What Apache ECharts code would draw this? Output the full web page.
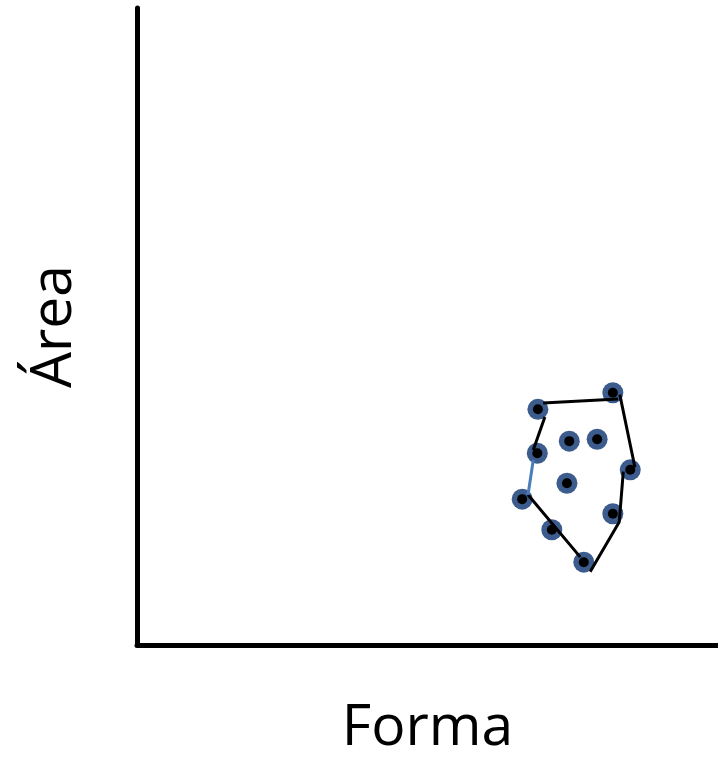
<!DOCTYPE html>
<html>
<head>
<meta charset="utf-8">
<script src="https://cdn.jsdelivr.net/npm/echarts@6/dist/echarts.min.js"></script>
<style>
html,body{margin:0;padding:0;background:#fff;}
#chart{width:718px;height:760px;}
</style>
</head>
<body>
<div id="chart"></div>
<script>
// Points (Forma, Área)
var pointsX = [81.9, 69.0, 74.4, 79.2, 68.9, 84.9, 74.0, 66.3, 81.9, 71.4, 76.9];
var pointsY = [39.6, 37.0, 32.0, 32.3, 30.1, 27.5, 25.4, 22.9, 20.6, 18.1, 13.0];
// Hull outline segments (black), null separates segments
var hullX = [69.9, 82.8, null, 83.1, 85.7, null, 83.7, 83.0, 78.0, null, 76.3, 67.3, null, 68.2, 70.2];
var hullY = [38.0, 38.6, null, 39.3, 27.9, null, 27.2, 19.3, 11.5, null, 13.8, 23.6, null, 30.6, 35.8];
// Hull edge drawn in blue
var edgeX = [67.3, 68.2];
var edgeY = [23.6, 29.0];
var xName = 'Forma';
var yName = 'Área';

function pairs(xs, ys) {
  return xs.map(function (x, i) { return x === null ? '-' : [x, ys[i]]; });
}

var chart = echarts.init(document.getElementById('chart'));
chart.setOption({
  animation: false,
  backgroundColor: '#ffffff',
  grid: { left: 137, right: 0, top: 8, bottom: 115, containLabel: false, outerBoundsMode: 'none' },
  xAxis: {
    type: 'value', min: 0, max: 100,
    name: xName, nameLocation: 'middle', nameGap: 55,
    nameTextStyle: { fontFamily: 'Open Sans', fontSize: 57, color: '#000' },
    axisLine: { show: true, onZero: false, lineStyle: { color: '#000', width: 5 } },
    axisTick: { show: false }, axisLabel: { show: false }, splitLine: { show: false }
  },
  yAxis: {
    type: 'value', min: 0, max: 100,
    name: yName, nameLocation: 'middle', nameGap: 54, nameRotate: 90,
    nameTextStyle: { fontFamily: 'Open Sans', fontSize: 57, color: '#000' },
    axisLine: { show: true, onZero: false, lineStyle: { color: '#000', width: 5 } },
    axisTick: { show: false }, axisLabel: { show: false }, splitLine: { show: false }
  },
  series: [
    {
      type: 'scatter', z: 2,
      symbol: 'circle', symbolSize: 21,
      itemStyle: { color: '#3B5C8C', opacity: 1 },
      data: pairs(pointsX, pointsY)
    },
    {
      type: 'line', z: 3, showSymbol: false, connectNulls: false,
      lineStyle: { color: '#000', width: 3 },
      data: pairs(hullX, hullY)
    },
    {
      type: 'line', z: 3, showSymbol: false,
      lineStyle: { color: '#4A7EBB', width: 3 },
      data: pairs(edgeX, edgeY)
    },
    {
      type: 'scatter', z: 4,
      symbol: 'circle', symbolSize: 10,
      itemStyle: { color: '#000', opacity: 1 },
      data: pairs(pointsX, pointsY)
    }
  ]
});
</script>
</body>
</html>
